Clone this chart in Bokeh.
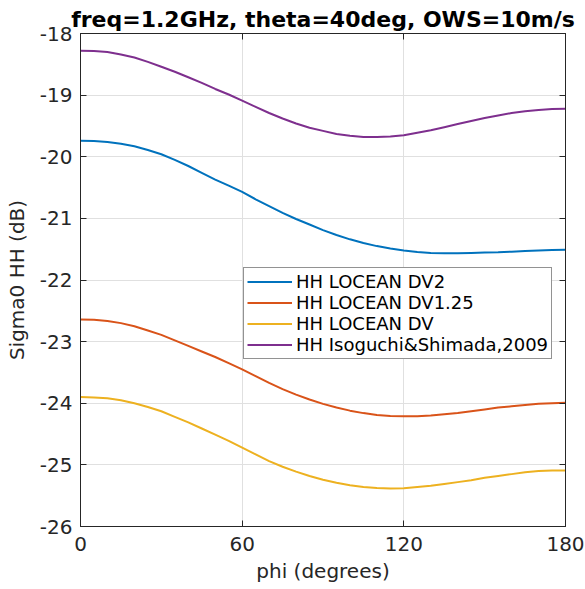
from bokeh.plotting import figure
from bokeh.models import Range1d, FixedTicker, LinearAxis, Legend, LegendItem
from bokeh.embed import file_html
from bokeh.resources import INLINE

phi = [0, 5, 10, 15, 20, 25, 30, 35, 40, 45, 50, 55, 60, 65, 70, 75, 80, 85, 90,
       95, 100, 105, 110, 115, 120, 125, 130, 135, 140, 145, 150, 155, 160, 165, 170, 175, 180]

dv2 = [-19.74, -19.745, -19.76, -19.79, -19.83, -19.89, -19.96, -20.05, -20.15, -20.26,
       -20.37, -20.47, -20.57, -20.69, -20.80, -20.91, -21.01, -21.10, -21.19,
       -21.27, -21.34, -21.40, -21.45, -21.49, -21.52, -21.545, -21.56, -21.565, -21.565,
       -21.56, -21.555, -21.55, -21.54, -21.53, -21.52, -21.515, -21.51]
dv125 = [-22.64, -22.645, -22.665, -22.70, -22.75, -22.82, -22.89, -22.98, -23.07, -23.16,
         -23.25, -23.35, -23.45, -23.56, -23.67, -23.77, -23.86, -23.94, -24.01,
         -24.07, -24.12, -24.16, -24.19, -24.205, -24.21, -24.21, -24.20, -24.18, -24.16,
         -24.13, -24.10, -24.07, -24.05, -24.03, -24.01, -24.00, -23.99]
dv = [-23.90, -23.905, -23.92, -23.95, -24.00, -24.06, -24.13, -24.22, -24.31, -24.41,
      -24.51, -24.61, -24.72, -24.83, -24.94, -25.03, -25.11, -25.18, -25.24,
      -25.29, -25.33, -25.36, -25.375, -25.385, -25.38, -25.36, -25.34, -25.31, -25.28,
      -25.25, -25.21, -25.18, -25.15, -25.12, -25.10, -25.09, -25.09]
iso = [-18.28, -18.285, -18.30, -18.34, -18.39, -18.46, -18.54, -18.62, -18.71, -18.80,
       -18.90, -18.99, -19.09, -19.19, -19.29, -19.38, -19.46, -19.53, -19.58,
       -19.63, -19.66, -19.68, -19.68, -19.67, -19.65, -19.61, -19.57, -19.52, -19.47,
       -19.42, -19.37, -19.33, -19.29, -19.26, -19.24, -19.225, -19.22]

series_names = ["HH LOCEAN DV2", "HH LOCEAN DV1.25", "HH LOCEAN DV", "HH Isoguchi&Shimada,2009"]
series_colors = ["#0072BD", "#D95319", "#EDB120", "#7E2F8E"]
x_ticks = [0, 60, 120, 180]
y_ticks = [-26, -25, -24, -23, -22, -21, -20, -19, -18]

FONT = "DejaVu Sans"
DARK = "#262626"

p = figure(width=585, height=589, output_backend="svg", toolbar_location=None,
           x_range=Range1d(0, 180), y_range=Range1d(-26, -18),
           min_border_left=80, min_border_right=20, min_border_top=33, min_border_bottom=63,
           title="freq=1.2GHz, theta=40deg, OWS=10m/s")

p.title.text_font = FONT
p.title.text_font_size = "22px"
p.title.text_font_style = "bold"
p.title.text_color = "#000000"
p.title.align = "center"
p.title.vertical_align = "top"
p.title.standoff = 0

p.outline_line_color = DARK
p.outline_line_width = 1
p.background_fill_color = "white"
p.border_fill_color = "white"

for ax in (p.xaxis[0], p.yaxis[0]):
    ax.axis_line_color = DARK
    ax.major_tick_line_color = DARK
    ax.major_tick_in = 6
    ax.major_tick_out = 0
    ax.minor_tick_line_color = None
    ax.major_label_text_font = FONT
    ax.major_label_text_font_size = "20px"
    ax.major_label_text_color = DARK
    ax.axis_label_text_font = FONT
    ax.axis_label_text_font_size = "20px"
    ax.axis_label_text_font_style = "normal"
    ax.axis_label_text_color = DARK

p.xaxis[0].ticker = FixedTicker(ticks=x_ticks)
p.yaxis[0].ticker = FixedTicker(ticks=y_ticks)
p.yaxis[0].major_label_overrides = {t: str(t) for t in y_ticks}
p.xaxis[0].axis_label = "phi (degrees)"
p.yaxis[0].axis_label = "Sigma0 HH (dB)"
p.xaxis[0].major_label_standoff = 10
p.yaxis[0].major_label_standoff = 8
p.xaxis[0].axis_label_standoff = 5
p.yaxis[0].axis_label_standoff = 8

# tick marks on right and top (no labels), like a boxed axes
rax = LinearAxis(ticker=FixedTicker(ticks=y_ticks), axis_line_color=DARK,
                 major_tick_line_color=DARK, major_tick_in=6, major_tick_out=0,
                 minor_tick_line_color=None, major_label_standoff=0,
                 major_label_overrides={t: "" for t in y_ticks})
p.add_layout(rax, "right")
tax = LinearAxis(ticker=FixedTicker(ticks=x_ticks), axis_line_color=DARK,
                 major_tick_line_color=DARK, major_tick_in=6, major_tick_out=0,
                 minor_tick_line_color=None, major_label_standoff=0,
                 major_label_overrides={t: "" for t in x_ticks})
p.add_layout(tax, "above")

p.xgrid.ticker = FixedTicker(ticks=x_ticks)
p.ygrid.ticker = FixedTicker(ticks=y_ticks)
p.xgrid.grid_line_color = "#e0e0e0"
p.ygrid.grid_line_color = "#e0e0e0"

items = []
for name, col, ys in zip(series_names, series_colors, [dv2, dv125, dv, iso]):
    r = p.line(phi, ys, line_color=col, line_width=2)
    items.append(LegendItem(label=name, renderers=[r]))

legend = Legend(items=items, location=(163, 167), margin=0, padding=3, spacing=0,
                glyph_width=45, glyph_height=21, label_standoff=4,
                label_text_font=FONT, label_text_font_size="18px", label_text_color="#000000",
                label_height=21, border_line_color=DARK, border_line_width=1,
                background_fill_color="white", background_fill_alpha=1.0)
p.add_layout(legend, "center")

open("out.html", "w").write(file_html(p, INLINE))
